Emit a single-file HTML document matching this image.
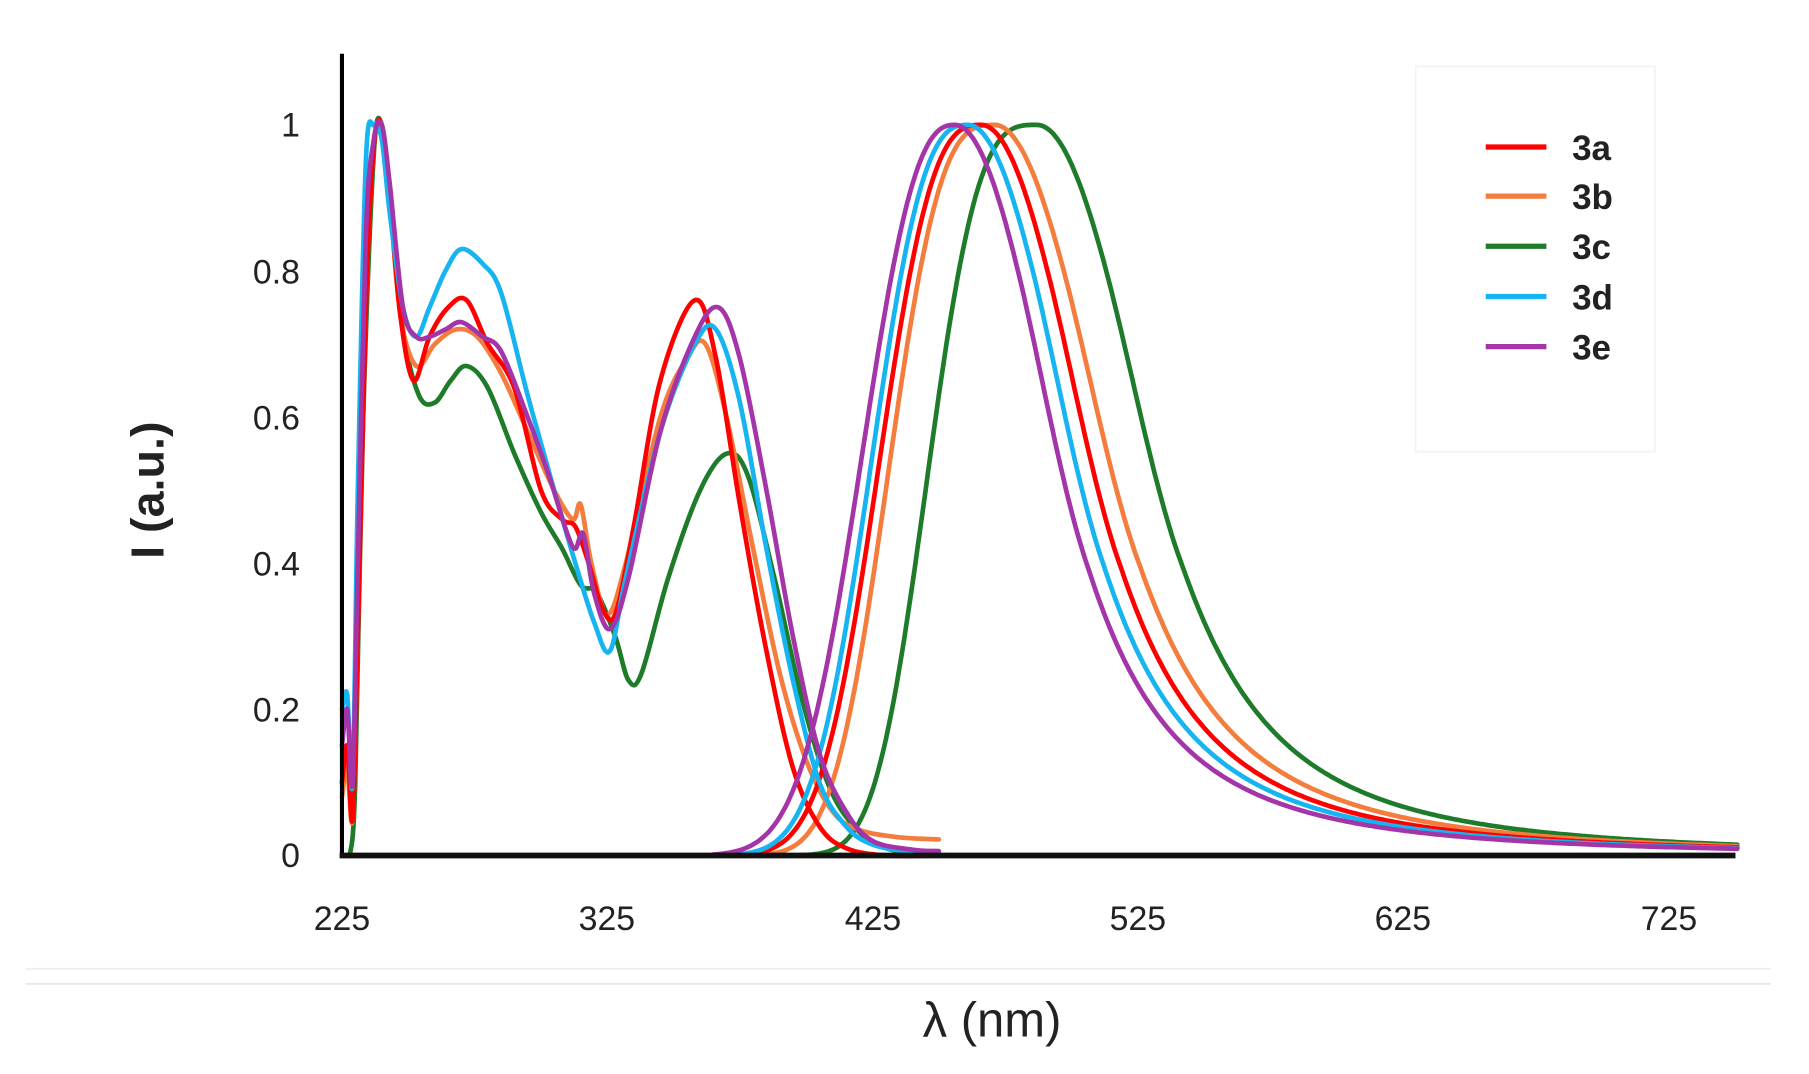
<!DOCTYPE html>
<html><head><meta charset="utf-8">
<style>
html,body{margin:0;padding:0;background:#fff;}
svg{display:block;}
text{font-family:"Liberation Sans",sans-serif;}
</style></head>
<body>
<svg id="s" width="1809" height="1074" viewBox="0 0 1550 920.2" preserveAspectRatio="none" xmlns="http://www.w3.org/2000/svg">
<rect width="1550" height="921" fill="#fff"/>
<line x1="22" y1="830" x2="1517" y2="830" stroke="#eee" stroke-width="1.5"/>
<line x1="22" y1="843" x2="1517" y2="843" stroke="#e6e6e6" stroke-width="1.5"/>
<rect x="1213" y="57" width="205" height="330" fill="none" stroke="#f3f3f3" stroke-width="1.5"/>
<g id="curves" fill="none" stroke-width="4" stroke-linejoin="round" stroke-linecap="round"></g>
<line x1="293" y1="46" x2="293" y2="735" stroke="#000" stroke-width="3.5"/>
<line x1="291" y1="733" x2="1487" y2="733" stroke="#111" stroke-width="5"/>
<g font-size="29" fill="#222" text-anchor="end">
<text x="257" y="117">1</text>
<text x="257" y="243">0.8</text>
<text x="257" y="368">0.6</text>
<text x="257" y="493">0.4</text>
<text x="257" y="618">0.2</text>
<text x="257" y="743">0</text>
</g>
<g font-size="29" fill="#222" text-anchor="middle">
<text x="293" y="797">225</text>
<text x="520" y="797">325</text>
<text x="748" y="797">425</text>
<text x="975" y="797">525</text>
<text x="1202" y="797">625</text>
<text x="1430" y="797">725</text>
</g>
<text x="0" y="0" transform="translate(140,420) rotate(-90)" font-size="40" font-weight="bold" fill="#222" text-anchor="middle">I (a.u.)</text>
<text x="850" y="888" font-size="42" fill="#222" text-anchor="middle">λ (nm)</text>
<g stroke-width="4.5">
<line x1="1273" y1="126" x2="1325" y2="126" stroke="#ff0000"/>
<line x1="1273" y1="168" x2="1325" y2="168" stroke="#f47c3c"/>
<line x1="1273" y1="211" x2="1325" y2="211" stroke="#1e7b2a"/>
<line x1="1273" y1="254" x2="1325" y2="254" stroke="#16b4f0"/>
<line x1="1273" y1="297" x2="1325" y2="297" stroke="#a335a8"/>
</g>
<g font-size="30" font-weight="bold" fill="#222">
<text x="1347" y="137">3a</text>
<text x="1347" y="179">3b</text>
<text x="1347" y="222">3c</text>
<text x="1347" y="265">3d</text>
<text x="1347" y="308">3e</text>
</g>
</svg>
<script>
var X=function(n){return 293+(n-225)*2.273;};
var Y=function(v){return 733-v*626;};
var cols={a:"#ff0000",b:"#f47c3c",c:"#1e7b2a",d:"#16b4f0",e:"#a335a8"};
var abs={
a:[[225,0.1],[227,0.15],[229,0.05],[231,0.3],[234,0.75],[237,0.97],[240,1],[243,0.9],[247,0.74],[252,0.65],[258,0.71],[265,0.75],[272,0.76],[280,0.7],[290,0.64],[300,0.5],[308,0.46],[313,0.45],[318,0.4],[323,0.34],[328,0.33],[335,0.45],[345,0.65],[358,0.76],[366,0.68],[375,0.48],[385,0.28],[395,0.12],[405,0.04],[415,0.01],[430,0],[450,0]],
b:[[225,0.08],[227,0.12],[229,0.05],[231,0.3],[234,0.75],[237,0.97],[240,1],[243,0.9],[247,0.74],[253,0.67],[260,0.7],[268,0.72],[276,0.71],[285,0.66],[295,0.58],[305,0.5],[312,0.46],[315,0.48],[319,0.4],[325,0.33],[332,0.4],[345,0.6],[355,0.68],[362,0.7],[370,0.6],[380,0.42],[390,0.25],[400,0.13],[410,0.06],[420,0.035],[435,0.025],[450,0.022]],
c:[[228,0],[230,0.1],[233,0.6],[237,0.96],[240,1],[243,0.9],[248,0.72],[254,0.63],[260,0.62],[266,0.65],[272,0.67],[280,0.64],[290,0.55],[300,0.47],[308,0.42],[315,0.37],[321,0.36],[328,0.3],[333,0.24],[338,0.25],[348,0.38],[360,0.5],[370,0.55],[378,0.52],[388,0.38],[398,0.22],[408,0.1],[418,0.04],[430,0.01],[450,0]],
d:[[225,0.2],[227,0.22],[229,0.1],[231,0.5],[234,0.95],[237,1],[240,0.98],[243,0.88],[248,0.75],[253,0.71],[258,0.75],[264,0.8],[270,0.83],[278,0.81],[285,0.77],[295,0.63],[305,0.5],[313,0.4],[320,0.32],[326,0.28],[332,0.38],[345,0.58],[358,0.7],[366,0.72],[375,0.62],[385,0.42],[395,0.24],[405,0.1],[415,0.04],[425,0.015],[440,0.005],[450,0.005]],
e:[[225,0.15],[227,0.2],[229,0.1],[231,0.4],[234,0.85],[237,0.98],[240,1],[243,0.92],[248,0.75],[253,0.71],[258,0.71],[264,0.72],[270,0.73],[278,0.71],[285,0.69],[295,0.6],[303,0.52],[310,0.44],[313,0.42],[316,0.44],[320,0.36],[326,0.31],[333,0.38],[345,0.58],[358,0.71],[367,0.75],[375,0.68],[385,0.5],[395,0.3],[405,0.14],[415,0.06],[425,0.02],[440,0.008],[450,0.006]]};
var em={a:[466,40,2.8,44,2.4],b:[471,41,3,46,2.4],c:[487,42,3.2,46,2.4],d:[461,38,2.7,43,2.4],e:[456,37,2.5,42,2.4]};
function cr(pts){var p=pts.map(function(q){return[X(q[0]),Y(q[1])];});var d="M"+p[0][0].toFixed(1)+","+p[0][1].toFixed(1);
for(var i=0;i<p.length-1;i++){var p0=p[i-1]||p[i],p1=p[i],p2=p[i+1],p3=p[i+2]||p2;
d+=" C"+(p1[0]+(p2[0]-p0[0])/6).toFixed(1)+","+(p1[1]+(p2[1]-p0[1])/6).toFixed(1)+" "+(p2[0]-(p3[0]-p1[0])/6).toFixed(1)+","+(p2[1]-(p3[1]-p1[1])/6).toFixed(1)+" "+p2[0].toFixed(1)+","+p2[1].toFixed(1);}return d;}
var g=document.getElementById("curves"),h="";
["c","b","a","d","e"].forEach(function(k){
 h+='<path d="'+cr(abs[k])+'" stroke="'+cols[k]+'"/>';
 var e=em[k],d="";
 for(var n=365;n<=751;n+=1){var r=n-e[0],v;
  if(r<0){v=Math.exp(-0.693*Math.pow(-r/e[1],e[2]));}
  else{var t=r/e[3];v=t<0.6?Math.exp(-0.693*t*t):1/(1+Math.pow(t,e[4]));
   if(t<0.6){}else{var a=Math.exp(-0.693*t*t),b=1/(1+Math.pow(t,e[4]));var w=Math.min(1,(t-0.6)/0.6);v=a*(1-w)+b*w;}}
  d+=(n==365?"M":"L")+X(n).toFixed(1)+","+Y(v).toFixed(1)+" ";}
 h+='<path d="'+d+'" stroke="'+cols[k]+'"/>';
});
g.innerHTML=h;
</script>
</body></html>
